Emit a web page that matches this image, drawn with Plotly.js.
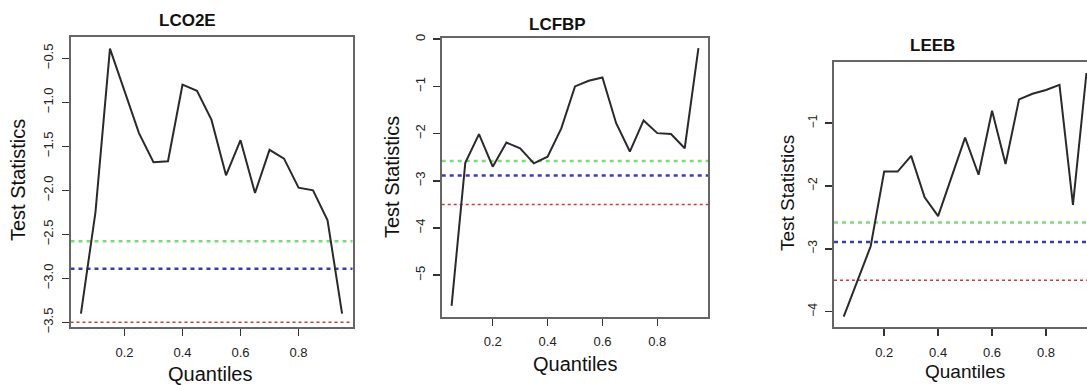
<!DOCTYPE html>
<html>
<head>
<meta charset="utf-8">
<script src="https://cdn.plot.ly/plotly-3.0.1.min.js"></script>
<style>
html,body{margin:0;padding:0;background:#fff;}
#chart{width:1087px;height:385px;}
</style>
</head>
<body>
<div id="chart"></div>
<script>
// ---- data ----
const quantiles = [0.05,0.10,0.15,0.20,0.25,0.30,0.35,0.40,0.45,0.50,0.55,0.60,0.65,0.70,0.75,0.80,0.85,0.90,0.95];
const lco2e = [-3.40,-2.25,-0.39,-0.86,-1.35,-1.68,-1.67,-0.80,-0.87,-1.20,-1.83,-1.43,-2.03,-1.54,-1.64,-1.97,-2.00,-2.34,-3.40];
const lcfbp = [-5.65,-2.62,-2.01,-2.70,-2.19,-2.31,-2.63,-2.49,-1.89,-1.00,-0.88,-0.81,-1.78,-2.38,-1.72,-1.99,-2.01,-2.31,-0.19];
const leeb  = [-4.08,-3.52,-2.96,-1.77,-1.77,-1.52,-2.18,-2.48,-1.85,-1.23,-1.82,-0.80,-1.65,-0.62,-0.53,-0.47,-0.39,-2.30,-0.20];
const panelTitles = ["LCO2E","LCFBP","LEEB"];
const critValues = [-2.58,-2.89,-3.50];   // 10%, 5%, 1%
const critColors = ["#78de78","#3a3ac0","#d03a3a"];
const xTickVals = [0.2,0.4,0.6,0.8];
const xTickText = ["0.2","0.4","0.6","0.8"];
const yTicks1 = [-3.5,-3.0,-2.5,-2.0,-1.5,-1.0,-0.5];
const yTicks2 = [-5,-4,-3,-2,-1,0];
const yTicks3 = [-4,-3,-2,-1];

const series = [lco2e, lcfbp, leeb];
const W = 1087, H = 385;
const FONT = '"Liberation Sans", Arial, sans-serif';

// panel geometry in pixels
const boxes = [
  {l:70.5, r:352.5, t:37,   b:327,   xr:[0.014,0.986], yr:[-3.553,-0.258], yt:yTicks1, yfmt:'.1f', ylab:13, mirrorY:true},
  {l:441.7,r:708.3, t:38.3, b:316.7, xr:[0.014,0.986], yr:[-5.88,0.02],   yt:yTicks2, yfmt:'d',   ylab:13, mirrorY:true},
  {l:834,  r:1087,  t:61.7, b:327.3, xr:[0.014,0.952], yr:[-4.25,-0.02],  yt:yTicks3, yfmt:'d',   ylab:12, mirrorY:false}
];
const titlePos = [{x:187,y:20,s:17},{x:558,y:24,s:17},{x:932,y:45,s:17}];
const ytitlePos = [{x:18,y:180,s:20},{x:392,y:177,s:20},{x:788,y:193,s:19}];
const xtitlePos = [{x:210,y:374,s:20},{x:575,y:364,s:20},{x:965,y:371,s:19}];

const traces = [];
const layout = {
  width:W, height:H,
  margin:{l:0,r:0,t:0,b:0},
  paper_bgcolor:'#fff', plot_bgcolor:'#fff',
  showlegend:false,
  font:{family:FONT, color:'#222'},
  shapes:[], annotations:[]
};

boxes.forEach((b,i)=>{
  const n = i===0 ? '' : String(i+1);
  traces.push({
    x: quantiles, y: series[i], type:'scatter', mode:'lines',
    xaxis:'x'+n, yaxis:'y'+n,
    line:{color:'#2a2a2a', width:2},
    hoverinfo:'skip'
  });
  layout['xaxis'+n] = {
    domain:[b.l/W, b.r/W], range:b.xr, anchor:'y'+n,
    tickvals:xTickVals, ticktext:xTickText,
    ticks:'outside', ticklen:7, tickwidth:1.5, tickcolor:'#333',
    tickfont:{size:13, color:'#222', family:FONT},
    ticklabelstandoff:5,
    showgrid:false, zeroline:false,
    showline:true, linecolor:'#666', linewidth:2, mirror:true,
    fixedrange:true
  };
  layout['yaxis'+n] = {
    domain:[(H-b.b)/H, (H-b.t)/H], range:b.yr, anchor:'x'+n,
    tickvals:b.yt, tickformat:b.yfmt, tickangle:-90,
    ticks:'outside', ticklen:7, tickwidth:1.5, tickcolor:'#333',
    tickfont:{size:b.ylab, color:'#222', family:FONT},
    ticklabelstandoff:3,
    showgrid:false, zeroline:false,
    showline:true, linecolor:'#666', linewidth:2, mirror:b.mirrorY,
    fixedrange:true
  };
  critValues.forEach((v,k)=>{
    layout.shapes.push({
      type:'line', xref:'x'+n+' domain', yref:'y'+n,
      x0:0, x1:1, y0:v, y1:v,
      line:{color:critColors[k], width:k===2?1.5:2.5, dash:k===2?'3px,3px':'4px,4px'},
      layer:'below'
    });
  });
  layout.annotations.push({
    text:'<b>'+panelTitles[i]+'</b>', xref:'paper', yref:'paper',
    x:titlePos[i].x/W, y:1-titlePos[i].y/H, xanchor:'center', yanchor:'middle',
    showarrow:false, font:{size:titlePos[i].s, color:'#111', family:FONT}
  });
  layout.annotations.push({
    text:'Test Statistics', xref:'paper', yref:'paper', textangle:-90,
    x:ytitlePos[i].x/W, y:1-ytitlePos[i].y/H, xanchor:'center', yanchor:'middle',
    showarrow:false, font:{size:ytitlePos[i].s, color:'#111', family:FONT}
  });
  layout.annotations.push({
    text:'Quantiles', xref:'paper', yref:'paper',
    x:xtitlePos[i].x/W, y:1-xtitlePos[i].y/H, xanchor:'center', yanchor:'middle',
    showarrow:false, font:{size:xtitlePos[i].s, color:'#111', family:FONT}
  });
});

Plotly.newPlot('chart', traces, layout, {displayModeBar:false, staticPlot:true});
</script>
</body>
</html>
